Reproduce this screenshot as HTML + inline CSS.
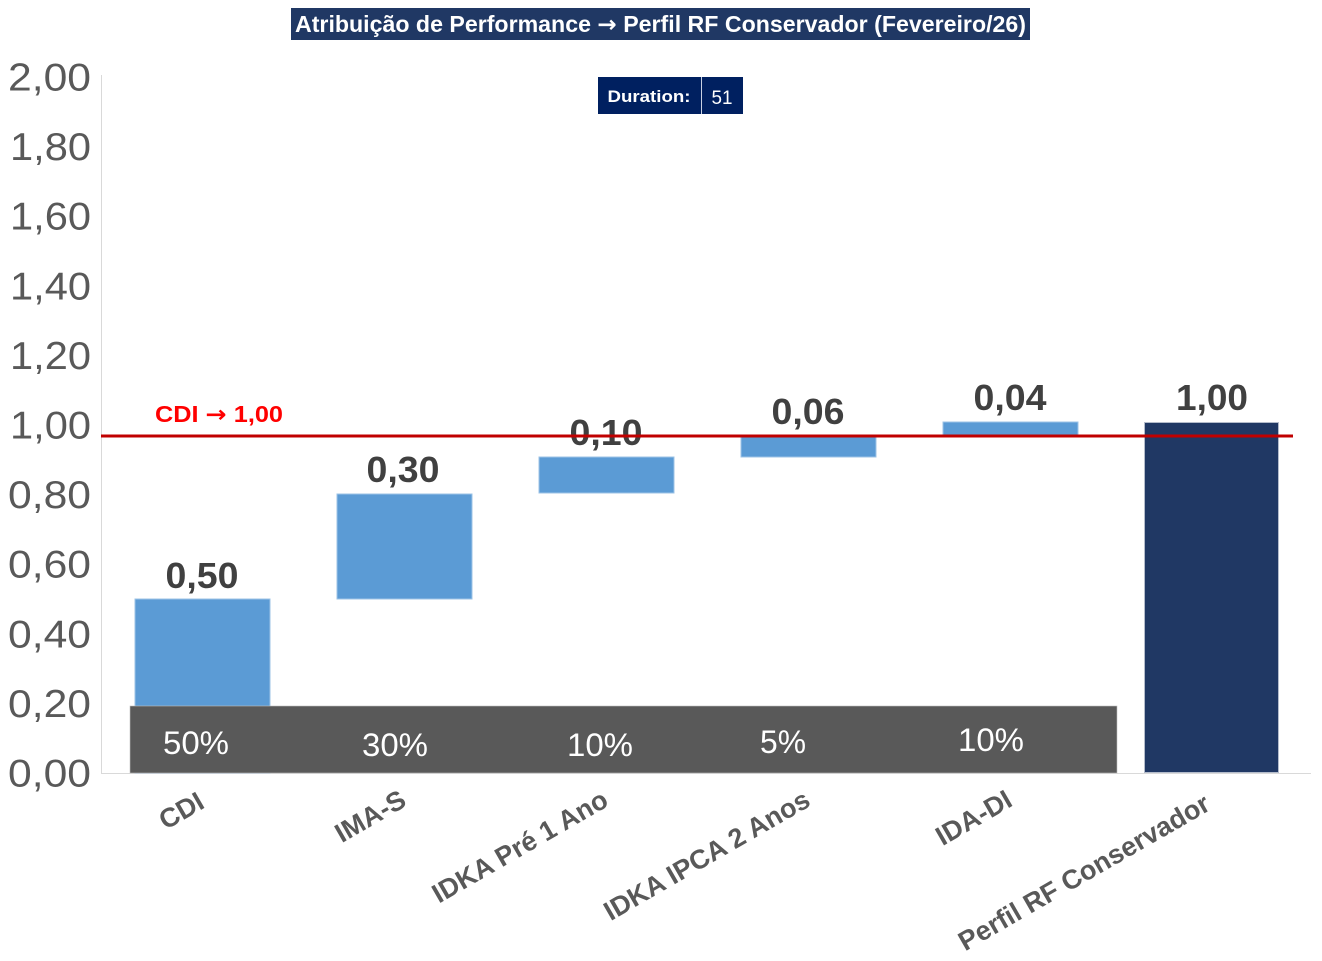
<!DOCTYPE html>
<html>
<head>
<meta charset="utf-8">
<style>
  html, body { margin: 0; padding: 0; background: #ffffff; }
  svg { display: block; }
  text { font-family: "Liberation Sans", "DejaVu Sans", sans-serif; }
</style>
</head>
<body>
<svg width="1322" height="961" viewBox="0 0 1322 961" xmlns="http://www.w3.org/2000/svg">
  <rect x="0" y="0" width="1322" height="961" fill="#ffffff"/>

  <!-- Title -->
  <rect x="291" y="8" width="739" height="32" fill="#203864"/>
  <text x="660.5" y="32" text-anchor="middle" font-size="23" font-weight="bold" fill="#ffffff" textLength="731" lengthAdjust="spacingAndGlyphs">Atribuição de Performance <tspan font-family="DejaVu Sans, sans-serif">→</tspan> Perfil RF Conservador (Fevereiro/26)</text>

  <!-- Duration box -->
  <rect x="598" y="77" width="145" height="37" fill="#002060"/>
  <line x1="701.5" y1="77" x2="701.5" y2="114" stroke="#c9d1e3" stroke-width="1"/>
  <text x="649" y="102" text-anchor="middle" font-size="17" font-weight="bold" fill="#ffffff" textLength="83" lengthAdjust="spacingAndGlyphs">Duration:</text>
  <text x="722" y="104" text-anchor="middle" font-size="19" fill="#ffffff" textLength="21" lengthAdjust="spacingAndGlyphs">51</text>

  <!-- Axes -->
  <line x1="101.5" y1="75" x2="101.5" y2="773" stroke="#d9d9d9" stroke-width="1"/>
  <line x1="101" y1="773.5" x2="1311" y2="773.5" stroke="#d9d9d9" stroke-width="1"/>

  <!-- Y tick labels -->
  <g font-size="39" fill="#595959" text-anchor="end">
    <text x="91" y="90.5" textLength="83" lengthAdjust="spacingAndGlyphs">2,00</text>
    <text x="91" y="160.1" textLength="81" lengthAdjust="spacingAndGlyphs">1,80</text>
    <text x="91" y="229.7" textLength="81" lengthAdjust="spacingAndGlyphs">1,60</text>
    <text x="91" y="299.3" textLength="81" lengthAdjust="spacingAndGlyphs">1,40</text>
    <text x="91" y="368.9" textLength="81" lengthAdjust="spacingAndGlyphs">1,20</text>
    <text x="91" y="438.5" textLength="81" lengthAdjust="spacingAndGlyphs">1,00</text>
    <text x="91" y="508.1" textLength="83" lengthAdjust="spacingAndGlyphs">0,80</text>
    <text x="91" y="577.7" textLength="83" lengthAdjust="spacingAndGlyphs">0,60</text>
    <text x="91" y="647.3" textLength="83" lengthAdjust="spacingAndGlyphs">0,40</text>
    <text x="91" y="716.9" textLength="83" lengthAdjust="spacingAndGlyphs">0,20</text>
    <text x="91" y="786.5" textLength="83" lengthAdjust="spacingAndGlyphs">0,00</text>
  </g>

  <!-- Bars -->
  <g stroke="#9dc3e6" stroke-width="1">
    <rect x="135" y="599" width="135" height="174" fill="#5b9bd5"/>
    <rect x="337" y="494" width="135" height="105" fill="#5b9bd5"/>
    <rect x="539" y="457" width="135" height="36" fill="#5b9bd5"/>
    <rect x="741" y="437" width="135" height="20" fill="#5b9bd5"/>
    <rect x="943" y="422" width="135" height="14" fill="#5b9bd5"/>
  </g>
  <rect x="1144.5" y="422.5" width="134" height="350" fill="#203864" stroke="#b4bccb" stroke-width="1"/>

  <!-- Gray band -->
  <rect x="130" y="706" width="987" height="67" fill="#595959" stroke="#bfbfbf" stroke-width="0.6"/>

  <!-- Percentages -->
  <g font-size="32" fill="#ffffff" text-anchor="middle">
    <text x="196" y="754" textLength="66" lengthAdjust="spacingAndGlyphs">50%</text>
    <text x="395" y="756" textLength="66" lengthAdjust="spacingAndGlyphs">30%</text>
    <text x="600" y="756" textLength="66" lengthAdjust="spacingAndGlyphs">10%</text>
    <text x="783" y="753" textLength="46" lengthAdjust="spacingAndGlyphs">5%</text>
    <text x="991" y="751" textLength="66" lengthAdjust="spacingAndGlyphs">10%</text>
  </g>

  <!-- Value labels -->
  <g font-size="36" font-weight="bold" fill="#404040" text-anchor="middle">
    <text x="202" y="588" textLength="73" lengthAdjust="spacingAndGlyphs">0,50</text>
    <text x="403" y="482" textLength="73" lengthAdjust="spacingAndGlyphs">0,30</text>
    <text x="606" y="445" textLength="73" lengthAdjust="spacingAndGlyphs">0,10</text>
    <text x="808" y="424" textLength="73" lengthAdjust="spacingAndGlyphs">0,06</text>
    <text x="1010" y="410" textLength="73" lengthAdjust="spacingAndGlyphs">0,04</text>
    <text x="1212" y="410" textLength="72" lengthAdjust="spacingAndGlyphs">1,00</text>
  </g>

  <!-- CDI reference line -->
  <line x1="101" y1="436" x2="1293" y2="436" stroke="#c00000" stroke-width="3"/>
  <text x="155" y="422" font-size="23" font-weight="bold" fill="#ff0000" textLength="128" lengthAdjust="spacingAndGlyphs">CDI <tspan font-family="DejaVu Sans, sans-serif">→</tspan> 1,00</text>

  <!-- X category labels -->
  <g font-size="27" font-weight="bold" fill="#595959" text-anchor="end">
    <text transform="translate(206,807) rotate(-30)">CDI</text>
    <text transform="translate(408,805) rotate(-30)">IMA-S</text>
    <text transform="translate(610,805) rotate(-30)">IDKA Pré 1 Ano</text>
    <text transform="translate(812,805) rotate(-30)">IDKA IPCA 2 Anos</text>
    <text transform="translate(1014,805) rotate(-30)">IDA-DI</text>
    <text transform="translate(1212,809) rotate(-30)">Perfil RF Conservador</text>
  </g>
</svg>
</body>
</html>
